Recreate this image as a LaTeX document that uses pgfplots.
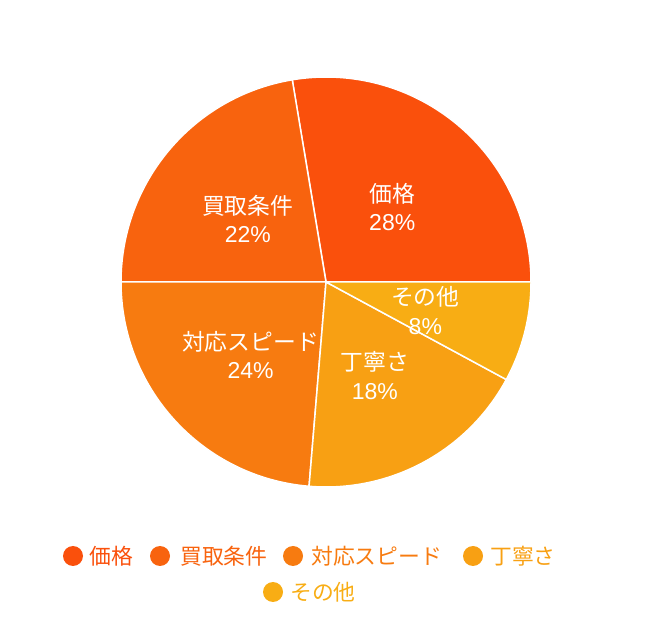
\documentclass[border=0pt]{standalone}
\usepackage{fontspec}
\setmainfont{Liberation Sans}
\newfontfamily\cjk{Noto Sans CJK JP}
\usepackage{pgfplots}
\usepackage{pgfplotstable}
\pgfplotsset{compat=1.18}

\definecolor{pie0}{HTML}{FA500C}
\definecolor{pie1}{HTML}{F8630E}
\definecolor{pie2}{HTML}{F77B10}
\definecolor{pie3}{HTML}{F8A013}
\definecolor{pie4}{HTML}{F8AD14}

% answers per reason (counter-clockwise from 3 o'clock)
\pgfplotstableread[col sep=comma]{
name,value
価格,21
買取条件,17
対応スピード,18
丁寧さ,14
その他,6
}\piedata

\begin{document}
\begin{tikzpicture}
\begin{axis}[
    scale only axis,
    x=1pt, y=1pt,
    xmin=0, xmax=652, ymin=0, ymax=636,
    hide axis,
    clip=false,
]
\path (axis cs:0,0) rectangle (axis cs:652,636);
% total
\def\total{0}
\pgfplotsforeachungrouped \i in {0,...,4}{%
    \pgfplotstablegetelem{\i}{value}\of\piedata
    \pgfmathsetmacro\total{\total+\pgfplotsretval}
}
\def\cum{0}
\pgfplotsforeachungrouped \i in {0,...,4}{%
    \pgfplotstablegetelem{\i}{value}\of\piedata \let\v\pgfplotsretval
    \pgfplotstablegetelem{\i}{name}\of\piedata \let\n\pgfplotsretval
    \pgfmathsetmacro\a{\cum/\total*360}
    \pgfmathsetmacro\b{(\cum+\v)/\total*360}
    \pgfmathsetmacro\m{(\a+\b)/2}
    \pgfmathtruncatemacro\p{round(100*\v/\total)}
    \edef\temp{%
        \noexpand\fill[pie\i, draw=white, line width=1.5pt, line join=round]
            (axis cs:326,354) -- ++(\a:205pt) arc[start angle=\a, end angle=\b, radius=205pt] -- cycle;
        \noexpand\path (axis cs:326,354) ++(\m:102.5pt)
            node[anchor=base, yshift=1.3pt, text=white, inner sep=0pt,
                 font=\noexpand\fontsize{22.8}{27}\noexpand\selectfont\noexpand\cjk] {\n}
            node[anchor=base, yshift=-27.2pt, text=white, inner sep=0pt,
                 font=\noexpand\fontsize{23}{27}\noexpand\selectfont] {\p\noexpand\%};
    }%
    \temp
    \pgfmathsetmacro\cum{\cum+\v}
}

% legend
\foreach \i/\bx/\tx/\ly/\lab in {0/73/89/80/価格, 1/160/180/80/買取条件, 2/293/311/80/対応スピード, 3/473/490/80/丁寧さ, 4/273/290/44/その他}{%
    \edef\temp{%
        \noexpand\fill[pie\i] (axis cs:\bx,\ly) circle[radius=10pt];
        \noexpand\path (axis cs:\tx,\ly) node[anchor=base west, yshift=-8.2pt, inner sep=0pt, text=pie\i,
            font=\noexpand\fontsize{21.8}{26}\noexpand\selectfont\noexpand\cjk] {\lab};
    }%
    \temp
}
\end{axis}
\end{tikzpicture}
\end{document}
